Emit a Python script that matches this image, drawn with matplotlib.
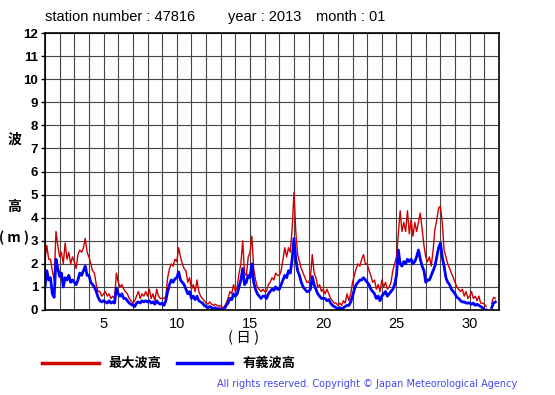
import matplotlib
matplotlib.use("Agg")
import matplotlib.pyplot as plt
import numpy as np

# 3-hourly samples (8 per day), day 1 .. day 31
max_wave = [
    2.2, 2.8, 2.2, 2.2, 1.7, 1.3, 3.4, 2.8,   # 1
    2.3, 2.5, 2.0, 2.9, 2.2, 2.5, 2.0, 2.3,   # 2
    2.1, 1.8, 2.4, 2.6, 2.5, 2.7, 3.1, 2.5,   # 3
    2.3, 2.0, 1.7, 1.6, 1.1, 0.8, 0.8, 0.6,   # 4
    0.7, 0.8, 0.6, 0.7, 0.5, 0.6, 0.5, 1.6,   # 5
    1.2, 1.0, 1.1, 0.9, 0.8, 0.7, 0.5, 0.4,   # 6
    0.3, 0.4, 0.6, 0.8, 0.5, 0.7, 0.6, 0.8,   # 7
    0.6, 0.9, 0.5, 0.7, 0.4, 0.9, 0.6, 0.5,   # 8
    0.5, 0.5, 0.6, 1.4, 1.8, 2.0, 1.9, 2.2,   # 9
    2.1, 2.7, 2.3, 2.0, 1.8, 1.7, 1.2, 1.4,   # 10
    0.9, 1.1, 0.8, 1.3, 0.8, 0.6, 0.5, 0.4,   # 11
    0.3, 0.25, 0.35, 0.25, 0.2, 0.25, 0.2, 0.15,  # 12
    0.2, 0.1, 0.15, 0.3, 0.5, 0.8, 0.7, 1.1,  # 13
    0.8, 1.0, 1.6, 2.0, 3.0, 1.6, 1.5, 2.3,   # 14
    2.5, 3.2, 1.8, 1.3, 1.0, 0.9, 0.8, 0.9,   # 15
    0.8, 0.8, 1.1, 1.2, 1.4, 1.3, 1.6, 1.5,   # 16
    1.5, 1.7, 2.2, 2.7, 2.3, 2.7, 2.5, 3.5,   # 17
    5.1, 3.4, 2.4, 2.1, 1.8, 1.6, 1.4, 1.2,   # 18
    1.2, 1.4, 2.4, 1.6, 1.4, 1.0, 1.1, 0.8,   # 19
    0.9, 0.7, 0.9, 0.7, 0.5, 0.4, 0.3, 0.3,   # 20
    0.2, 0.3, 0.2, 0.4, 0.3, 0.7, 0.4, 0.7,   # 21
    1.2, 1.5, 1.8, 2.0, 1.9, 2.2, 2.4, 2.0,   # 22
    2.0, 1.7, 1.5, 1.2, 1.3, 0.9, 1.1, 0.8,   # 23
    1.3, 1.0, 1.2, 0.9, 1.0, 1.2, 1.7, 2.0,   # 24
    2.3, 3.3, 4.3, 3.4, 3.8, 3.4, 4.3, 3.3,   # 25
    3.9, 3.2, 3.8, 3.4, 3.8, 4.2, 3.5, 2.8,   # 26
    2.3, 2.1, 2.3, 1.9, 2.6, 3.5, 3.9, 4.4,   # 27
    4.5, 3.8, 2.6, 2.3, 2.0, 1.8, 1.6, 1.4,   # 28
    1.2, 1.0, 0.9, 0.8, 0.9, 0.6, 0.8, 0.5,   # 29
    0.6, 0.8, 0.5, 0.6, 0.4, 0.6, 0.3, 0.3,   # 30
    0.25, 0.15, np.nan, np.nan, 0.3, 0.55, 0.5, np.nan,  # 31
]
sig_wave = [
    1.0, 1.7, 1.3, 1.4, 0.7, 0.55, 2.2, 1.8,  # 1
    1.45, 1.6, 1.0, 1.4, 1.3, 1.5, 1.2, 1.3,  # 2
    1.2, 1.1, 1.3, 1.6, 1.5, 1.7, 1.9, 1.5,   # 3
    1.5, 1.2, 1.1, 1.0, 0.8, 0.55, 0.4, 0.35,  # 4
    0.4, 0.35, 0.3, 0.4, 0.3, 0.35, 0.3, 0.95,  # 5
    0.7, 0.6, 0.7, 0.5, 0.5, 0.4, 0.3, 0.25,  # 6
    0.2, 0.15, 0.3, 0.35, 0.3, 0.4, 0.35, 0.4,  # 7
    0.35, 0.4, 0.3, 0.35, 0.25, 0.4, 0.3, 0.25,  # 8
    0.3, 0.2, 0.4, 0.8, 1.1, 1.3, 1.2, 1.35,  # 9
    1.4, 1.65, 1.3, 1.2, 1.1, 0.9, 0.7, 0.8,  # 10
    0.5, 0.6, 0.45, 0.6, 0.4, 0.35, 0.3, 0.2,  # 11
    0.15, 0.1, 0.15, 0.1, 0.05, 0.1, 0.05, 0.05,  # 12
    0.05, 0.0, 0.05, 0.2, 0.3, 0.5, 0.45, 0.7,  # 13
    0.6, 0.7, 1.0, 1.3, 1.8, 1.1, 1.2, 1.5,   # 14
    1.4, 2.0, 1.2, 0.9, 0.7, 0.6, 0.5, 0.6,   # 15
    0.6, 0.5, 0.7, 0.8, 0.9, 0.85, 1.0, 0.9,  # 16
    0.9, 1.1, 1.3, 1.5, 1.4, 1.7, 1.6, 2.2,   # 17
    3.1, 2.2, 1.7, 1.5, 1.2, 1.0, 0.9, 0.8,   # 18
    0.8, 0.9, 1.45, 1.1, 0.9, 0.7, 0.6, 0.5,  # 19
    0.5, 0.5, 0.4, 0.45, 0.3, 0.2, 0.15, 0.1,  # 20
    0.05, 0.1, 0.05, 0.1, 0.15, 0.2, 0.2, 0.35,  # 21
    0.6, 0.9, 1.1, 1.2, 1.3, 1.3, 1.4, 1.3,   # 22
    1.2, 1.1, 0.9, 0.8, 0.7, 0.5, 0.6, 0.4,   # 23
    0.6, 0.7, 0.8, 0.6, 0.7, 0.8, 0.9, 1.1,   # 24
    1.5, 2.6, 2.0, 1.9, 2.1, 2.0, 2.2, 2.1,   # 25
    2.2, 2.0, 2.1, 2.3, 2.6, 2.2, 1.9, 1.7,   # 26
    1.2, 1.3, 1.3, 1.5, 1.7, 1.9, 2.3, 2.7,   # 27
    2.9, 2.3, 1.9, 1.4, 1.2, 1.1, 0.9, 0.8,   # 28
    0.7, 0.55, 0.5, 0.4, 0.35, 0.35, 0.3, 0.3,  # 29
    0.3, 0.25, 0.3, 0.2, 0.25, 0.2, 0.15, 0.1,  # 30
    0.0, 0.0, np.nan, np.nan, 0.1, 0.3, 0.35, np.nan,  # 31
]
samples_per_day = 8
x_ticks = [5, 10, 15, 20, 25, 30]
y_ticks = list(range(0, 13))

days = 1 + np.arange(len(max_wave)) / samples_per_day

cjk = ["Noto Sans CJK JP", "DejaVu Sans"]
plt.rcParams["font.family"] = ["Liberation Sans", "DejaVu Sans"]

fig = plt.figure(figsize=(5.55, 3.95), dpi=100)
ax = fig.add_axes([45 / 555, 85 / 395, 454 / 555, 277 / 395])

ax.plot(days, max_wave, color="#cc0000", lw=1.0, label="最大波高")
ax.plot(days, sig_wave, color="#0000ff", lw=2.0, label="有義波高")

ax.set_xlim(1, 32)
ax.set_ylim(0, 12)
ax.set_xticks(np.arange(1, 33), minor=True)
ax.set_xticks(x_ticks)
ax.set_yticks(y_ticks)
ax.grid(True, which="both", axis="x", color="#454545", lw=0.8)
ax.grid(True, axis="y", color="#454545", lw=0.8)
ax.set_axisbelow(True)
ax.tick_params(axis="x", which="both", length=0, labelsize=10.5, pad=5)
ax.tick_params(axis="y", length=3, width=1, labelsize=9.5, pad=2)
for lbl in ax.get_yticklabels():
    lbl.set_fontweight("bold")
for s in ax.spines.values():
    s.set_linewidth(1.2)

fig.text(45 / 555, 1 - 17 / 395, "station number : 47816", fontsize=10.5, va="center")
fig.text(228 / 555, 1 - 17 / 395, "year : 2013", fontsize=10.5, va="center")
fig.text(316 / 555, 1 - 17 / 395, "month : 01", fontsize=10.5, va="center")

fig.text(14 / 555, 1 - 140 / 395, "波", family=cjk, fontsize=10, fontweight="bold", ha="center", va="center")
fig.text(14 / 555, 1 - 207 / 395, "高", family=cjk, fontsize=10, fontweight="bold", ha="center", va="center")
fig.text(14 / 555, 1 - 238 / 395, "( m )", family=cjk, fontsize=10, fontweight="bold", ha="center", va="center")
fig.text(244 / 555, 1 - 338 / 395, "( 日 )", family=cjk, fontsize=10.5, ha="center", va="center")

# legend drawn by hand below the axes
lx = fig.add_axes([0, 0, 1, 1], facecolor="none")
lx.set_xlim(0, 555)
lx.set_ylim(395, 0)
lx.axis("off")
lx.plot([42, 99], [363, 363], color="#cc0000", lw=2.5)
lx.text(108, 363, "最大波高", family=cjk, fontsize=9.5, fontweight="bold", va="center")
lx.plot([177, 232], [363, 363], color="#0000ff", lw=2.5)
lx.text(243, 363, "有義波高", family=cjk, fontsize=9.5, fontweight="bold", va="center")
lx.text(517, 384, "All rights reserved. Copyright © Japan Meteorological Agency",
        family="DejaVu Sans", fontsize=7, color="#4848f0", ha="right", va="center")

fig.savefig("out.png", dpi=100)
